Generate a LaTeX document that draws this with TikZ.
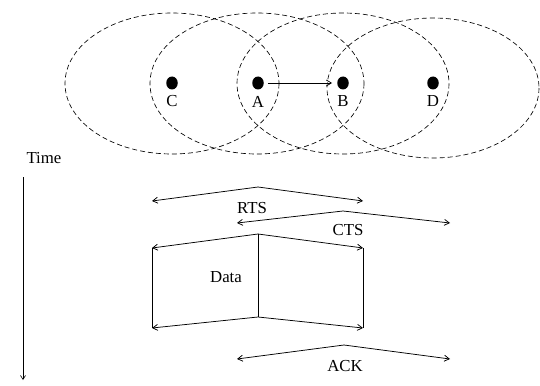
\documentclass[tikz,border=0pt]{standalone}
\usepackage{fontspec}
\setmainfont{Liberation Serif}
\usetikzlibrary{arrows.meta,shapes.geometric}
\begin{document}
\begin{tikzpicture}[x=1pt,y=-1pt,
  rangeell/.style={draw,dash pattern=on 5pt off 3pt,line width=0.65pt},
  station/.style={fill,ellipse,minimum width=11.5pt,minimum height=13pt,inner sep=0pt},
  lbl/.style={font=\fontsize{16.8}{19}\selectfont,inner sep=0pt},
  msg/.style={line width=0.75pt,-{Straight Barb[length=5pt,width=6pt]}},
  plainline/.style={line width=0.75pt}]
\useasboundingbox (0,0) rectangle (540,385);
% ranges
\draw[rangeell] (172,83.5) ellipse [x radius=107, y radius=70.5];
\draw[rangeell] (257,83.5) ellipse [x radius=107, y radius=70.5];
\draw[rangeell] (343,83.5) ellipse [x radius=106, y radius=70.5];
\draw[rangeell] (433,88) ellipse [x radius=106, y radius=70];
% stations
\node[station] (C) at (172,83) {};
\node[station] (A) at (258,83) {};
\node[station] (B) at (343,83) {};
\node[station] (D) at (433,83) {};
\node[lbl] (lC) at (172,101.5) {C};
\node[lbl] (lA) at (258,101.5) {A};
\node[lbl] (lB) at (343,101.5) {B};
\node[lbl] (lD) at (433,101.5) {D};
\draw[msg] ([xshift=4pt]A.east) -- ([xshift=-5pt]B.west);
% time axis
\node[lbl] (time) at (44,158) {Time};
\coordinate (t0) at (23,177);
\coordinate (t1) at (23,380);
\draw[line width=0.6pt,-{Straight Barb[length=4pt,width=5pt]}] (t0) -- (t1);
% RTS
\coordinate (rp) at (258,187);
\coordinate (rl) at (152,201);
\coordinate (rr) at (363,201);
\draw[msg] (rp) -- (rl);
\draw[msg] (rp) -- (rr);
\node[lbl] (rts) at (252,208) {RTS};
% CTS
\coordinate (cp) at (343,211);
\coordinate (cl) at (237,223);
\coordinate (cr) at (450,223);
\draw[msg] (cp) -- (cl);
\draw[msg] (cp) -- (cr);
\node[lbl] (cts) at (348,230) {CTS};
% Data
\coordinate (dp) at (258,234);
\coordinate (dl) at (152,248);
\coordinate (dr) at (363,248);
\coordinate (ep) at (258,317);
\coordinate (el) at (152,328);
\coordinate (er) at (363,328);
\draw[msg] (dp) -- (dl);
\draw[msg] (dp) -- (dr);
\draw[msg] (ep) -- (el);
\draw[msg] (ep) -- (er);
\draw[plainline] (dl) -- (el);
\draw[plainline] (dp) -- (ep);
\draw[plainline] (dr) -- (er);
\node[lbl] (data) at (226,277) {Data};
% ACK
\coordinate (kp) at (344,345);
\coordinate (kl) at (237,359);
\coordinate (kr) at (450,359);
\draw[msg] (kp) -- (kl);
\draw[msg] (kp) -- (kr);
\node[lbl] (ack) at (345,366) {ACK};
\end{tikzpicture}
\end{document}
